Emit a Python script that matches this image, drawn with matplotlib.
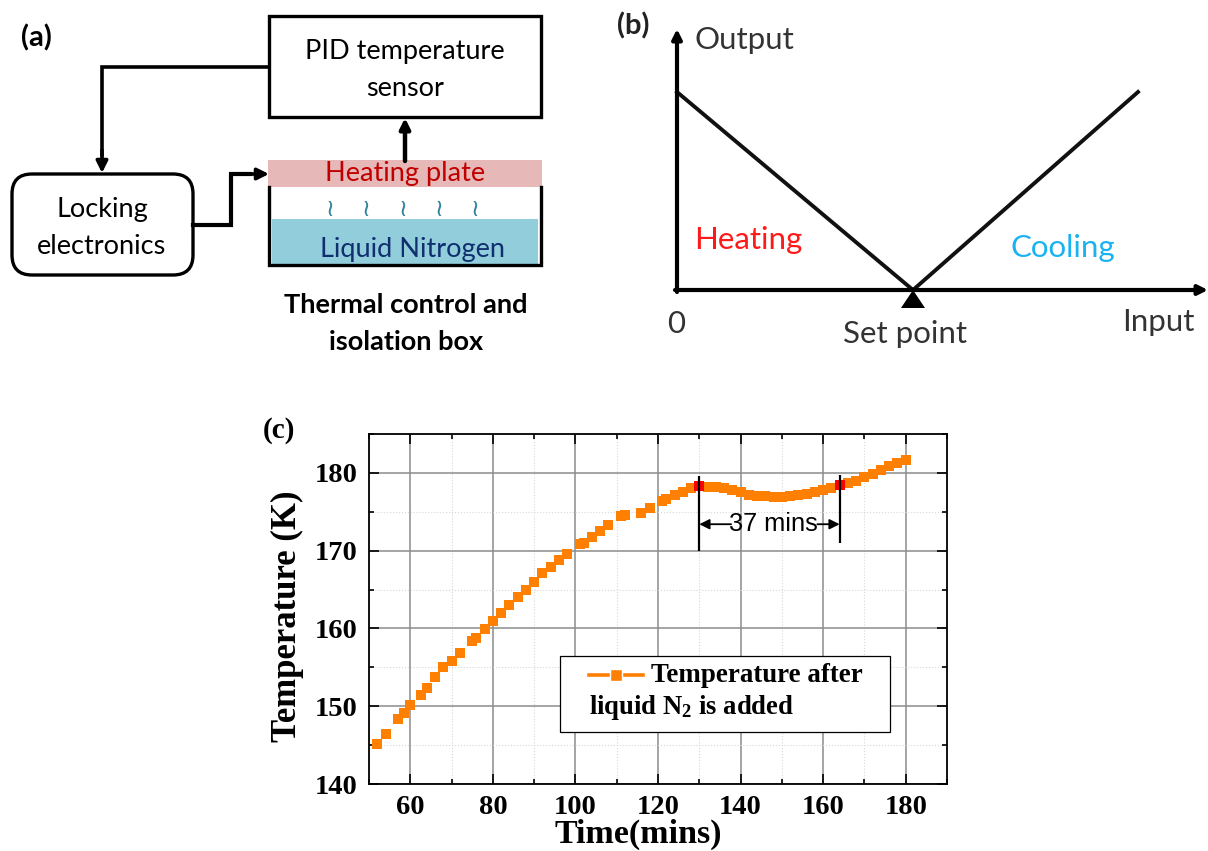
import matplotlib
matplotlib.use("Agg")
import matplotlib.pyplot as plt
from matplotlib.lines import Line2D
from matplotlib.patches import FancyBboxPatch, Polygon, Rectangle
from matplotlib.ticker import MultipleLocator

# Panel (c) readings, minutes and kelvin.
time_mins = [
    52, 54, 57, 58.5, 60, 62.5, 64, 66, 68, 70, 72, 75, 76, 78, 80, 82, 84, 86, 88, 90,
    92, 94, 96, 98, 101, 102, 104, 106, 108, 111, 112, 116, 118, 121, 122, 124, 126, 128, 130,
    132, 134, 136, 138, 140, 142, 144, 146, 148, 150, 152, 154, 156, 158, 160, 162, 164,
    166, 168, 170, 172, 174, 176, 178, 180,
]
temperature_k = [
    145.1, 146.4, 148.4, 149.1, 150.2, 151.5, 152.4, 153.7, 155.0, 155.8, 156.8, 158.4,
    158.8, 159.9, 160.9, 162.0, 163.0, 164.1, 164.9, 166.0, 167.1, 167.9, 168.8, 169.6,
    170.8, 171.0, 171.8, 172.5, 173.3, 174.4, 174.6, 174.8, 175.5, 176.4, 176.6, 177.2,
    177.6, 178.0, 178.3, 178.2, 178.2, 178.0, 177.8, 177.6, 177.2, 177.0, 177.0, 176.9,
    176.9, 177.0, 177.2, 177.3, 177.6, 177.8, 178.1, 178.4, 178.7, 179.0, 179.5, 179.9,
    180.4, 180.9, 181.3, 181.7,
]
window_times = [130, 164]
window_temps = [178.3, 178.4]
window_top = [179.6, 179.7]
window_bottom = [170.0, 171.0]
window_label = "37 mins"
legend_lines = ["Temperature after", "liquid N$_2$ is added"]

# Panel (b) schematic, in figure pixels.
heating_x = [677, 913]
heating_y = [92, 290]
cooling_x = [913, 1138]
cooling_y = [290, 92]

ORANGE = "#ff8000"
SANS = "Lato"
SERIF = "Liberation Serif"

plt.rcParams["mathtext.default"] = "regular"


def arrow(ax, start, end, lw=2.6, size=14):
    """Straight arrow with a filled head, given in pixel coordinates."""
    ax.annotate(
        "",
        xy=end,
        xytext=start,
        arrowprops=dict(arrowstyle="-|>", color="black", lw=lw, mutation_scale=size,
                        shrinkA=0, shrinkB=0),
    )


def draw_panel_a(ax):
    """Block diagram of the temperature control loop."""
    ax.text(36, 38, "(a)", fontsize=21, fontweight="bold", family=SANS, ha="center", va="center")

    ax.add_patch(Rectangle((269, 16), 272, 101, fc="white", ec="black", lw=2.4))
    ax.text(405, 52, "PID temperature", fontsize=19.5, family=SANS, ha="center", va="center")
    ax.text(405, 88, "sensor", fontsize=19.5, family=SANS, ha="center", va="center")

    ax.add_patch(FancyBboxPatch((32, 194), 141, 61, boxstyle="round,pad=20,rounding_size=20",
                                fc="white", ec="black", lw=2.4))
    ax.text(102, 210, "Locking", fontsize=19.5, family=SANS, ha="center", va="center")
    ax.text(102, 246, "electronics", fontsize=19.5, family=SANS, ha="center", va="center")

    # Feedback wires.
    ax.plot([269, 102, 102], [67, 67, 155], color="black", lw=2.6, solid_joinstyle="miter")
    arrow(ax, (102, 150), (102, 173), size=17)
    ax.plot([193, 231, 231, 250], [225, 225, 174, 174], color="black", lw=3,
            solid_joinstyle="miter")
    arrow(ax, (245, 174), (269, 174), size=17)
    arrow(ax, (405, 161), (405, 118), lw=3.2, size=15)

    # Isolation box with the plate and the nitrogen bath.
    ax.add_patch(Rectangle((272, 219), 266, 45, fc="#92cddc", ec="none"))
    ax.plot([269, 269, 541, 541], [187, 265, 265, 187], color="black", lw=2.4,
            solid_joinstyle="miter")
    ax.add_patch(Rectangle((268, 160), 274, 27, fc="#e6b8b7", ec="none"))
    ax.text(405, 174, "Heating plate", fontsize=19.5, color="#c00000", family=SANS,
            ha="center", va="center")
    ax.text(412, 249, "Liquid Nitrogen", fontsize=19.5, color="#0f2f6f", family=SANS,
            ha="center", va="center")
    for x in [330, 366, 403, 439, 475]:
        ax.text(x, 209, "\u2240", fontsize=17, color="#31859c", family="DejaVu Sans",
                ha="center", va="center")

    ax.text(406, 305, "Thermal control and", fontsize=19.5, fontweight="bold", family=SANS,
            ha="center", va="center")
    ax.text(406, 342, "isolation box", fontsize=19.5, fontweight="bold", family=SANS,
            ha="center", va="center")


def draw_panel_b(ax):
    """Output against input sketch for the heating and cooling regions."""
    ax.text(633, 26, "(b)", fontsize=21, fontweight="bold", color="#222222", family=SANS,
            ha="center", va="center")
    arrow(ax, (677, 292), (677, 29), lw=3, size=14)
    arrow(ax, (675, 290), (1208, 290), lw=3, size=14)
    ax.plot(heating_x, heating_y, color="#111111", lw=2.8)
    ax.plot(cooling_x, cooling_y, color="#111111", lw=2.8)
    ax.add_patch(Polygon([(913, 290), (901, 308), (925, 308)], fc="black", ec="none"))

    ax.text(694, 40, "Output", fontsize=22.5, color="#333333", family=SANS, ha="left", va="center")
    ax.text(676, 324, "0", fontsize=22.5, color="#333333", family=SANS, ha="center", va="center")
    ax.text(905, 334, "Set point", fontsize=22.5, color="#333333", family=SANS,
            ha="center", va="center")
    ax.text(1158, 322, "Input", fontsize=22.5, color="#333333", family=SANS,
            ha="center", va="center")
    ax.text(694, 240, "Heating", fontsize=22.5, color="#ff1a1a", family=SANS, ha="left", va="center")
    ax.text(1010, 248, "Cooling", fontsize=22.5, color="#1ab2f0", family=SANS, ha="left", va="center")


def draw_panel_c(fig):
    """Temperature drift after the liquid nitrogen is added."""
    ax = fig.add_axes([369 / 1208, 1 - 784 / 851, (947 - 369) / 1208, (784 - 434) / 851])
    ax.plot(time_mins, temperature_k, ls="none", marker="s", ms=7.4, mew=0, color=ORANGE, zorder=3)
    ax.plot(window_times, window_temps, ls="none", marker="s", ms=7.4, mew=0, color="red", zorder=4)
    ax.vlines(window_times, window_bottom, window_top, color="black", lw=1.6, zorder=5)

    # Span arrows run from the label out to the two black markers.
    y_arrow = 173.4
    for x_from, x_to in [(137.7, window_times[0]), (158.6, window_times[1])]:
        ax.annotate(
            "",
            xy=(x_to, y_arrow),
            xytext=(x_from, y_arrow),
            arrowprops=dict(arrowstyle="-|>", color="black", lw=1.3, mutation_scale=15,
                            shrinkA=0, shrinkB=0),
            zorder=5,
        )
    ax.text(148, y_arrow, window_label, fontsize=18.3, family="Liberation Sans",
            ha="center", va="center", zorder=5)

    ax.set_xlim(50, 190)
    ax.set_ylim(140, 185)
    ax.xaxis.set_major_locator(MultipleLocator(20))
    ax.xaxis.set_minor_locator(MultipleLocator(10))
    ax.yaxis.set_major_locator(MultipleLocator(10))
    ax.yaxis.set_minor_locator(MultipleLocator(5))
    ax.grid(which="major", color="#8c8c8c", lw=1.1)
    ax.grid(which="minor", color="#d8d8d8", lw=0.8, ls=":")
    ax.set_axisbelow(True)
    ax.tick_params(which="major", direction="in", length=7.5, width=1.2, top=True, right=True, pad=8)
    ax.tick_params(which="minor", direction="in", length=3.8, width=1.2, top=True, right=True)
    for spine in ax.spines.values():
        spine.set_linewidth(1.3)
    ax.set_xticks([60, 80, 100, 120, 140, 160, 180])
    ax.set_yticks([140, 150, 160, 170, 180])
    for label in ax.get_xticklabels() + ax.get_yticklabels():
        label.set_fontfamily(SERIF)
        label.set_fontweight("bold")
        label.set_fontsize(20.5)
    return ax


def draw_legend(ax):
    """Boxed legend whose second line wraps under the line sample."""
    ax.add_patch(Rectangle((560, 656), 330, 76, fc="white", ec="black", lw=0.9))
    ax.add_line(Line2D([589, 643], [675, 675], color=ORANGE, lw=2.6))
    ax.plot([616], [675], marker="s", ms=8, mew=1, mec="white", color=ORANGE)
    ax.text(651, 675, legend_lines[0], fontsize=19.4, fontweight="bold", family=SERIF,
            ha="left", va="center")
    ax.text(589, 708, legend_lines[1], fontsize=19.2, fontweight="bold", family=SERIF,
            ha="left", va="center")


fig = plt.figure(figsize=(12.08, 8.51), dpi=100)
draw_panel_c(fig)

# Overlay axes in figure pixels for the schematics and loose labels.
overlay = fig.add_axes([0, 0, 1, 1], zorder=5)
overlay.set_xlim(0, 1208)
overlay.set_ylim(851, 0)
overlay.axis("off")
overlay.patch.set_alpha(0)

draw_panel_a(overlay)
draw_panel_b(overlay)
draw_legend(overlay)
overlay.text(279, 431, "(c)", fontsize=21, fontweight="bold", family=SERIF, ha="center", va="center")
overlay.text(287, 616, "Temperature (K)", fontsize=25, fontweight="bold", family=SERIF,
             rotation=90, ha="center", va="center")
overlay.text(638, 843, "Time(mins)", fontsize=24.5, fontweight="bold", family=SERIF,
             ha="center", va="baseline")

fig.savefig("out.png", dpi=100)
